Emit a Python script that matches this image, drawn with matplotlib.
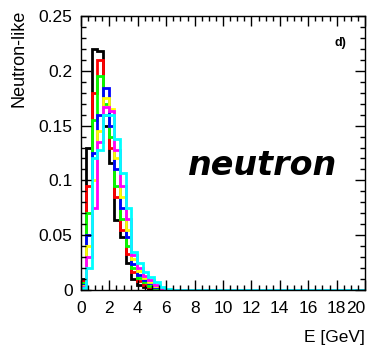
import numpy as np
import matplotlib
matplotlib.use("Agg")
import matplotlib.pyplot as plt
from matplotlib.ticker import MultipleLocator

plt.rcParams['font.family'] = ['Liberation Sans', 'DejaVu Sans']

# histogram binning (GeV)
first_edge = -0.05
bin_width = 0.4
n_bins = 51

# bin contents, one list per curve (rest of the bins are empty)
black = [0.010, 0.130, 0.220, 0.218, 0.150, 0.116, 0.064, 0.048, 0.025, 0.010, 0.005, 0.003, 0.001]
red = [0.008, 0.095, 0.180, 0.210, 0.160, 0.130, 0.085, 0.055, 0.033, 0.016, 0.008, 0.005, 0.003, 0.001]
green = [0.006, 0.070, 0.155, 0.195, 0.170, 0.140, 0.095, 0.065, 0.040, 0.020, 0.011, 0.007, 0.004, 0.002]
blue = [0.005, 0.050, 0.125, 0.160, 0.184, 0.150, 0.110, 0.075, 0.048, 0.024, 0.014, 0.009, 0.006, 0.003, 0.001]
yellow = [0.004, 0.040, 0.100, 0.145, 0.175, 0.165, 0.120, 0.085, 0.055, 0.028, 0.017, 0.011, 0.007, 0.004, 0.0015]
magenta = [0.003, 0.030, 0.075, 0.135, 0.167, 0.163, 0.128, 0.095, 0.065, 0.032, 0.020, 0.013, 0.009, 0.005, 0.002]
cyan = [0.002, 0.020, 0.120, 0.128, 0.160, 0.160, 0.138, 0.107, 0.075, 0.035, 0.0245, 0.0167, 0.012, 0.0076, 0.003, 0.001]

curves = [(black, 'black'), (red, '#ff0000'), (green, '#00ff00'), (blue, '#0000ff'),
          (yellow, '#ffff00'), (magenta, '#ff00ff'), (cyan, '#00ffff')]

xticks = [0, 2, 4, 6, 8, 10, 12, 14, 16, 18, 20]
yticks = [0, 0.05, 0.1, 0.15, 0.2, 0.25]
ytick_labels = ['0', '0.05', '0.1', '0.15', '0.2', '0.25']

edges = first_edge + bin_width * np.arange(n_bins + 1)

fig = plt.figure(figsize=(3.67, 3.49), dpi=100)
ax = fig.add_axes([0.2207, 0.169, 0.7739, 0.7852])

for vals, col in curves:
    h = np.zeros(n_bins)
    h[:len(vals)] = vals
    ax.stairs(h, edges, color=col, lw=2.0, baseline=None)

ax.set_xlim(0, 20)
ax.set_ylim(0, 0.25)

ax.set_xticks(xticks)
ax.set_xticklabels([str(t) for t in xticks])
ax.xaxis.set_minor_locator(MultipleLocator(0.5))
ax.set_yticks(yticks)
ax.set_yticklabels(ytick_labels)
ax.yaxis.set_minor_locator(MultipleLocator(0.01))

ax.tick_params(which='both', direction='in', top=True, right=True, width=1.0, labelsize=12.5)
ax.tick_params(which='major', length=7)
ax.tick_params(which='minor', length=3.5)
ax.tick_params(axis='x', which='major', pad=8)
ax.tick_params(axis='y', which='major', pad=6)
# last label squeezed in against the right edge, as in the original
ax.get_xticklabels()[-1].set_horizontalalignment('right')
for s in ax.spines.values():
    s.set_linewidth(1.0)

ax.set_xlabel('E [GeV]', fontsize=12.5, loc='right', labelpad=10)
ax.set_ylabel('Neutron-like', fontsize=13, loc='top')
ax.yaxis.set_label_coords(-0.19, 1.025)

ax.text(0.641, 0.4526, 'neutron', transform=ax.transAxes, fontsize=24,
        fontweight='bold', style='italic', family='DejaVu Sans', ha='center', va='center')
ax.text(0.912, 0.901, 'd)', transform=ax.transAxes, fontsize=9, fontweight='bold',
        ha='center', va='center')

fig.savefig('out.png', dpi=100)
